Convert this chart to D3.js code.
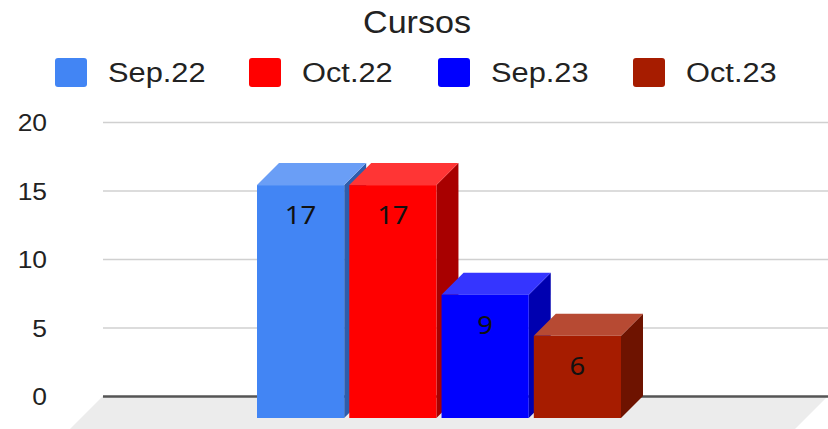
<!DOCTYPE html>
<html>
<head>
<meta charset="utf-8">
<script src="https://cdn.jsdelivr.net/npm/d3@7"></script>
<style>
  body { margin: 0; background: #fff; }
  svg { display: block; }
</style>
</head>
<body>
<div id="chart"></div>
<script>
// data
const title = "Cursos";
const series = ["Sep.22", "Oct.22", "Sep.23", "Oct.23"];
const values = [17, 17, 9, 6];
const yTicks = [0, 5, 10, 15, 20];

// colours: front, top, side
const frontColors = ["#4285f4", "#ff0000", "#0000ff", "#a61c00"];
const topColors = ["#6a9ef6", "#ff3535", "#3535ff", "#b74a33"];
const sideColors = ["#2e5dab", "#a80000", "#0000b0", "#6e1300"];

const w = 828, h = 429;
const depthX = 22, depthY = 22;   // 3d offset
const stretch = 1.1;              // text looks a bit wide in the original

let svg = d3.select("#chart").append("svg")
  .attr("width", w)
  .attr("height", h);

// scales (front plane / back wall)
let x = d3.scaleBand()
  .domain(series)
  .range([257, 621])
  .paddingInner(0.055);

let yFront = d3.scaleLinear().domain([0, 20]).range([418, 144]);
let yBack = d3.scaleLinear().domain([0, 20]).range([396, 122]);

function wideText(sel, px, py) {
  return sel.attr("x", 0).attr("y", 0)
    .attr("transform", `translate(${px},${py}) scale(${stretch},1)`);
}

// title
wideText(svg.append("text"), 417, 33)
  .attr("text-anchor", "middle")
  .style("font-family", "'Liberation Sans', Arial, sans-serif")
  .style("font-size", "31px")
  .style("fill", "#222")
  .text(title);

// legend
const legendX = [55, 249, 438, 633];
let legend = svg.append("g").selectAll("g")
  .data(series)
  .enter()
  .append("g");

legend.append("rect")
  .attr("x", (d, i) => legendX[i])
  .attr("y", 58)
  .attr("width", 32)
  .attr("height", 29)
  .attr("rx", 3)
  .attr("fill", (d, i) => frontColors[i]);

legend.append("text")
  .each(function(d, i) { wideText(d3.select(this), legendX[i] + 53, 82); })
  .style("font-family", "'Liberation Sans', Arial, sans-serif")
  .style("font-size", "28px")
  .style("fill", "#222")
  .text(d => d);

// floor
svg.append("polygon")
  .attr("points", [[103, 396], [828, 396], [784, 440], [59, 440]].map(p => p.join(",")).join(" "))
  .attr("fill", "#ececec");

// y axis with gridlines on the back wall
let yAxis = svg.append("g")
  .attr("transform", "translate(103,0)")
  .call(d3.axisLeft(yBack)
    .tickValues(yTicks)
    .tickSize(-(w - 103))
    .tickPadding(56));

yAxis.select(".domain").remove();
yAxis.selectAll(".tick line")
  .attr("stroke", d => d === 0 ? "#555" : "#d0d0d0")
  .attr("stroke-width", d => d === 0 ? 2.5 : 1.5);
yAxis.selectAll(".tick text")
  .attr("x", 0)
  .attr("dy", "0.36em")
  .attr("transform", `translate(-56,0) scale(${stretch},1)`)
  .style("font-family", "'Liberation Sans', Arial, sans-serif")
  .style("font-size", "24px")
  .style("fill", "#222");

// bars
let bars = svg.append("g").selectAll("g")
  .data(values)
  .enter()
  .append("g");

bars.append("polygon")   // side
  .attr("points", (d, i) => {
    let x1 = x(series[i]) + x.bandwidth();
    let yt = yFront(d), yb = yFront(0);
    return [[x1, yt], [x1 + depthX, yt - depthY], [x1 + depthX, yb - depthY], [x1, yb]]
      .map(p => p.join(",")).join(" ");
  })
  .attr("fill", (d, i) => sideColors[i]);

bars.append("polygon")   // top
  .attr("points", (d, i) => {
    let x0 = x(series[i]), x1 = x0 + x.bandwidth();
    let yt = yFront(d);
    return [[x0, yt], [x0 + depthX, yt - depthY], [x1 + depthX, yt - depthY], [x1, yt]]
      .map(p => p.join(",")).join(" ");
  })
  .attr("fill", (d, i) => topColors[i]);

bars.append("rect")      // front
  .attr("x", (d, i) => x(series[i]))
  .attr("y", d => yFront(d))
  .attr("width", x.bandwidth())
  .attr("height", d => yFront(0) - yFront(d))
  .attr("fill", (d, i) => frontColors[i]);

bars.append("text")
  .each(function(d, i) {
    wideText(d3.select(this), x(series[i]) + x.bandwidth() / 2, yFront(d) + 39);
  })
  .attr("text-anchor", "middle")
  .style("font-family", "'Noto Sans', 'Open Sans', sans-serif")
  .style("font-size", "25px")
  .style("fill", "#111")
  .text(d => d);
</script>
</body>
</html>
